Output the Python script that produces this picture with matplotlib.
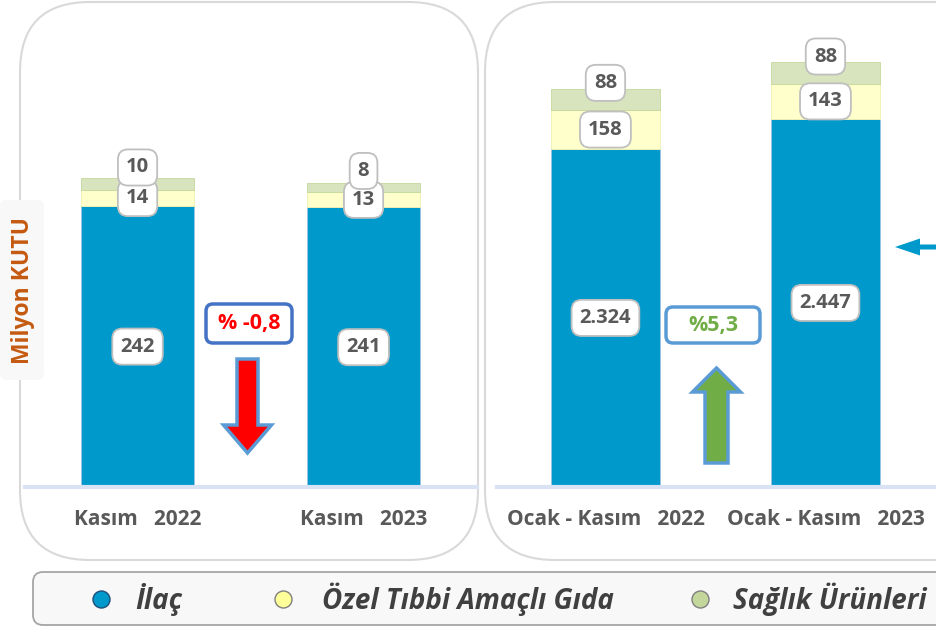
import matplotlib
matplotlib.use('Agg')
import matplotlib.pyplot as plt
from matplotlib.patches import FancyBboxPatch, FancyArrow

plt.rcParams['font.family'] = ['Open Sans', 'DejaVu Sans']

# Veri
kasim_etiket = ['Kasım   2022', 'Kasım   2023']
kasim_ilac = [242, 241]
kasim_ozel = [14, 13]
kasim_saglik = [10, 8]

yillik_etiket = ['Ocak - Kasım   2022', 'Ocak - Kasım   2023']
yillik_ilac = [2324, 2447]
yillik_ozel = [158, 143]
yillik_saglik = [88, 88]

degisim_metin = ['% -0,8', '%5,3']
seri_adlari = ['İlaç', 'Özel Tıbbi Amaçlı Gıda', 'Sağlık Ürünleri']

MAVI = '#0099CC'
SARI = '#FFFFCC'
YESIL = '#D7E4BD'
GRI_YAZI = '#595959'

W, H = 937, 628
fig = plt.figure(figsize=(W / 100, H / 100), dpi=100)

# arka plan ekseni (piksel koordinatları)
bg = fig.add_axes([0, 0, 1, 1])
bg.set_xlim(0, W)
bg.set_ylim(H, 0)
bg.axis('off')

for x0, w in [(20, 458), (485, 520)]:
    bg.add_patch(FancyBboxPatch((x0, 2), w, 558,
                                boxstyle='round,pad=0,rounding_size=70',
                                fc='white', ec='#D9D9D9', lw=1.5))

# y ekseni başlığı
bg.add_patch(FancyBboxPatch((0, 200), 44, 180, boxstyle='round,pad=0,rounding_size=6',
                            fc='#F8F8F8', ec='none'))
bg.text(23, 290, 'Milyon KUTU', rotation=90, ha='center', va='center',
        fontsize=16.5, fontweight='bold', color='#C55A11')


def px_axes(left, right, top, bottom):
    return fig.add_axes([left / W, 1 - bottom / H, (right - left) / W, (bottom - top) / H])


def ciz(ax, etiketler, ilac, ozel, saglik, xlim, ylim, genislik):
    x = list(range(len(etiketler)))
    ax.bar(x, ilac, width=genislik, color=MAVI, edgecolor='#9DC3E6', lw=0.6, zorder=2)
    ax.bar(x, ozel, bottom=ilac, width=genislik, color=SARI, edgecolor='#EEF0B0', lw=0.6, zorder=2)
    alt = [a + b for a, b in zip(ilac, ozel)]
    ax.bar(x, saglik, bottom=alt, width=genislik, color=YESIL, edgecolor='#C4D79B', lw=0.6, zorder=2)
    ax.set_xlim(*xlim)
    ax.set_ylim(*ylim)
    ax.set_facecolor('none')
    for s in ['top', 'right', 'left']:
        ax.spines[s].set_visible(False)
    ax.spines['bottom'].set_color('#DAE3F3')
    ax.spines['bottom'].set_linewidth(3)
    ax.set_yticks([])
    ax.set_xticks(x, etiketler)
    ax.tick_params(axis='x', length=0, pad=16)
    for t in ax.get_xticklabels():
        t.set_fontsize(15)
        t.set_fontweight('bold')
        t.set_color(GRI_YAZI)

    kutu = dict(boxstyle='round,pad=0.4,rounding_size=0.5', fc='white', ec='#BFBFBF', lw=1.3)
    fmt = lambda v: f'{v:,}'.replace(',', '.')
    y0 = ylim[0]
    for i in x:
        ax.text(i, (max(0, y0) + ilac[i]) / 2, fmt(ilac[i]), ha='center', va='center',
                fontsize=14.5, fontweight='bold', color=GRI_YAZI, bbox=kutu, zorder=4)
        ax.text(i, ilac[i] + ozel[i] / 2, fmt(ozel[i]), ha='center', va='center',
                fontsize=14.5, fontweight='bold', color=GRI_YAZI, bbox=kutu, zorder=4)
        ax.annotate(fmt(saglik[i]), (i, alt[i] + saglik[i] / 2), xytext=(0, 12),
                    textcoords='offset points', ha='center', va='center',
                    fontsize=14.5, fontweight='bold', color=GRI_YAZI, bbox=kutu, zorder=5)


ax1 = px_axes(25, 477, 60, 487)
ciz(ax1, kasim_etiket, kasim_ilac, kasim_ozel, kasim_saglik,
    (-0.498, 1.502), (0, 368), 0.5)

ax2 = px_axes(497, 937, 30, 487)
ciz(ax2, yillik_etiket, yillik_ilac, yillik_ozel, yillik_saglik,
    (-0.493, 1.507), (938, 2811), 0.495)

# değişim kutuları ve oklar
bg.add_patch(FancyBboxPatch((206, 304), 86, 39, boxstyle='round,pad=0,rounding_size=7',
                            fc='white', ec='#4472C4', lw=2.5))
bg.text(249, 324, degisim_metin[0], ha='center', va='center', fontsize=15.5,
        fontweight='bold', color='#FF0000')
bg.add_patch(FancyBboxPatch((666, 307), 94, 36, boxstyle='round,pad=0,rounding_size=7',
                            fc='white', ec='#5B9BD5', lw=2.5))
bg.text(713, 326, degisim_metin[1], ha='center', va='center', fontsize=15.5,
        fontweight='bold', color='#70AD47')

bg.add_patch(FancyArrow(247.5, 359, 0, 94, width=21, head_width=48, head_length=28,
                        length_includes_head=True, fc='#FF0000', ec='#5B9BD5', lw=2.5))
bg.add_patch(FancyArrow(716.5, 463, 0, -95, width=23, head_width=48, head_length=24,
                        length_includes_head=True, fc='#70AD47', ec='#5B9BD5', lw=2.5))
bg.add_patch(FancyArrow(960, 247, -65, 0, width=5, head_width=17, head_length=25,
                        length_includes_head=True, fc=MAVI, ec='none'))

# gösterge
bg.add_patch(FancyBboxPatch((33, 572), 930, 53, boxstyle='round,pad=0,rounding_size=10',
                            fc='#F8F8F8', ec='#A6A6A6', lw=1.3))
isaret_renk = [MAVI, '#FFFF99', '#C3D69B']
isaret_kenar = ['#1F4E79', '#7F7F7F', '#7F7F7F']
isaret_x = [101, 283, 700]
yazi_x = [135, 322, 733]
for ad, r, k, mx, tx in zip(seri_adlari, isaret_renk, isaret_kenar, isaret_x, yazi_x):
    bg.scatter([mx], [599], s=150, color=r, edgecolor=k, lw=1, zorder=3)
    bg.text(tx, 599, ad, ha='left', va='center', fontsize=20, fontweight='bold',
            fontstyle='italic', color='#404040')

fig.savefig('out.png', dpi=100)
